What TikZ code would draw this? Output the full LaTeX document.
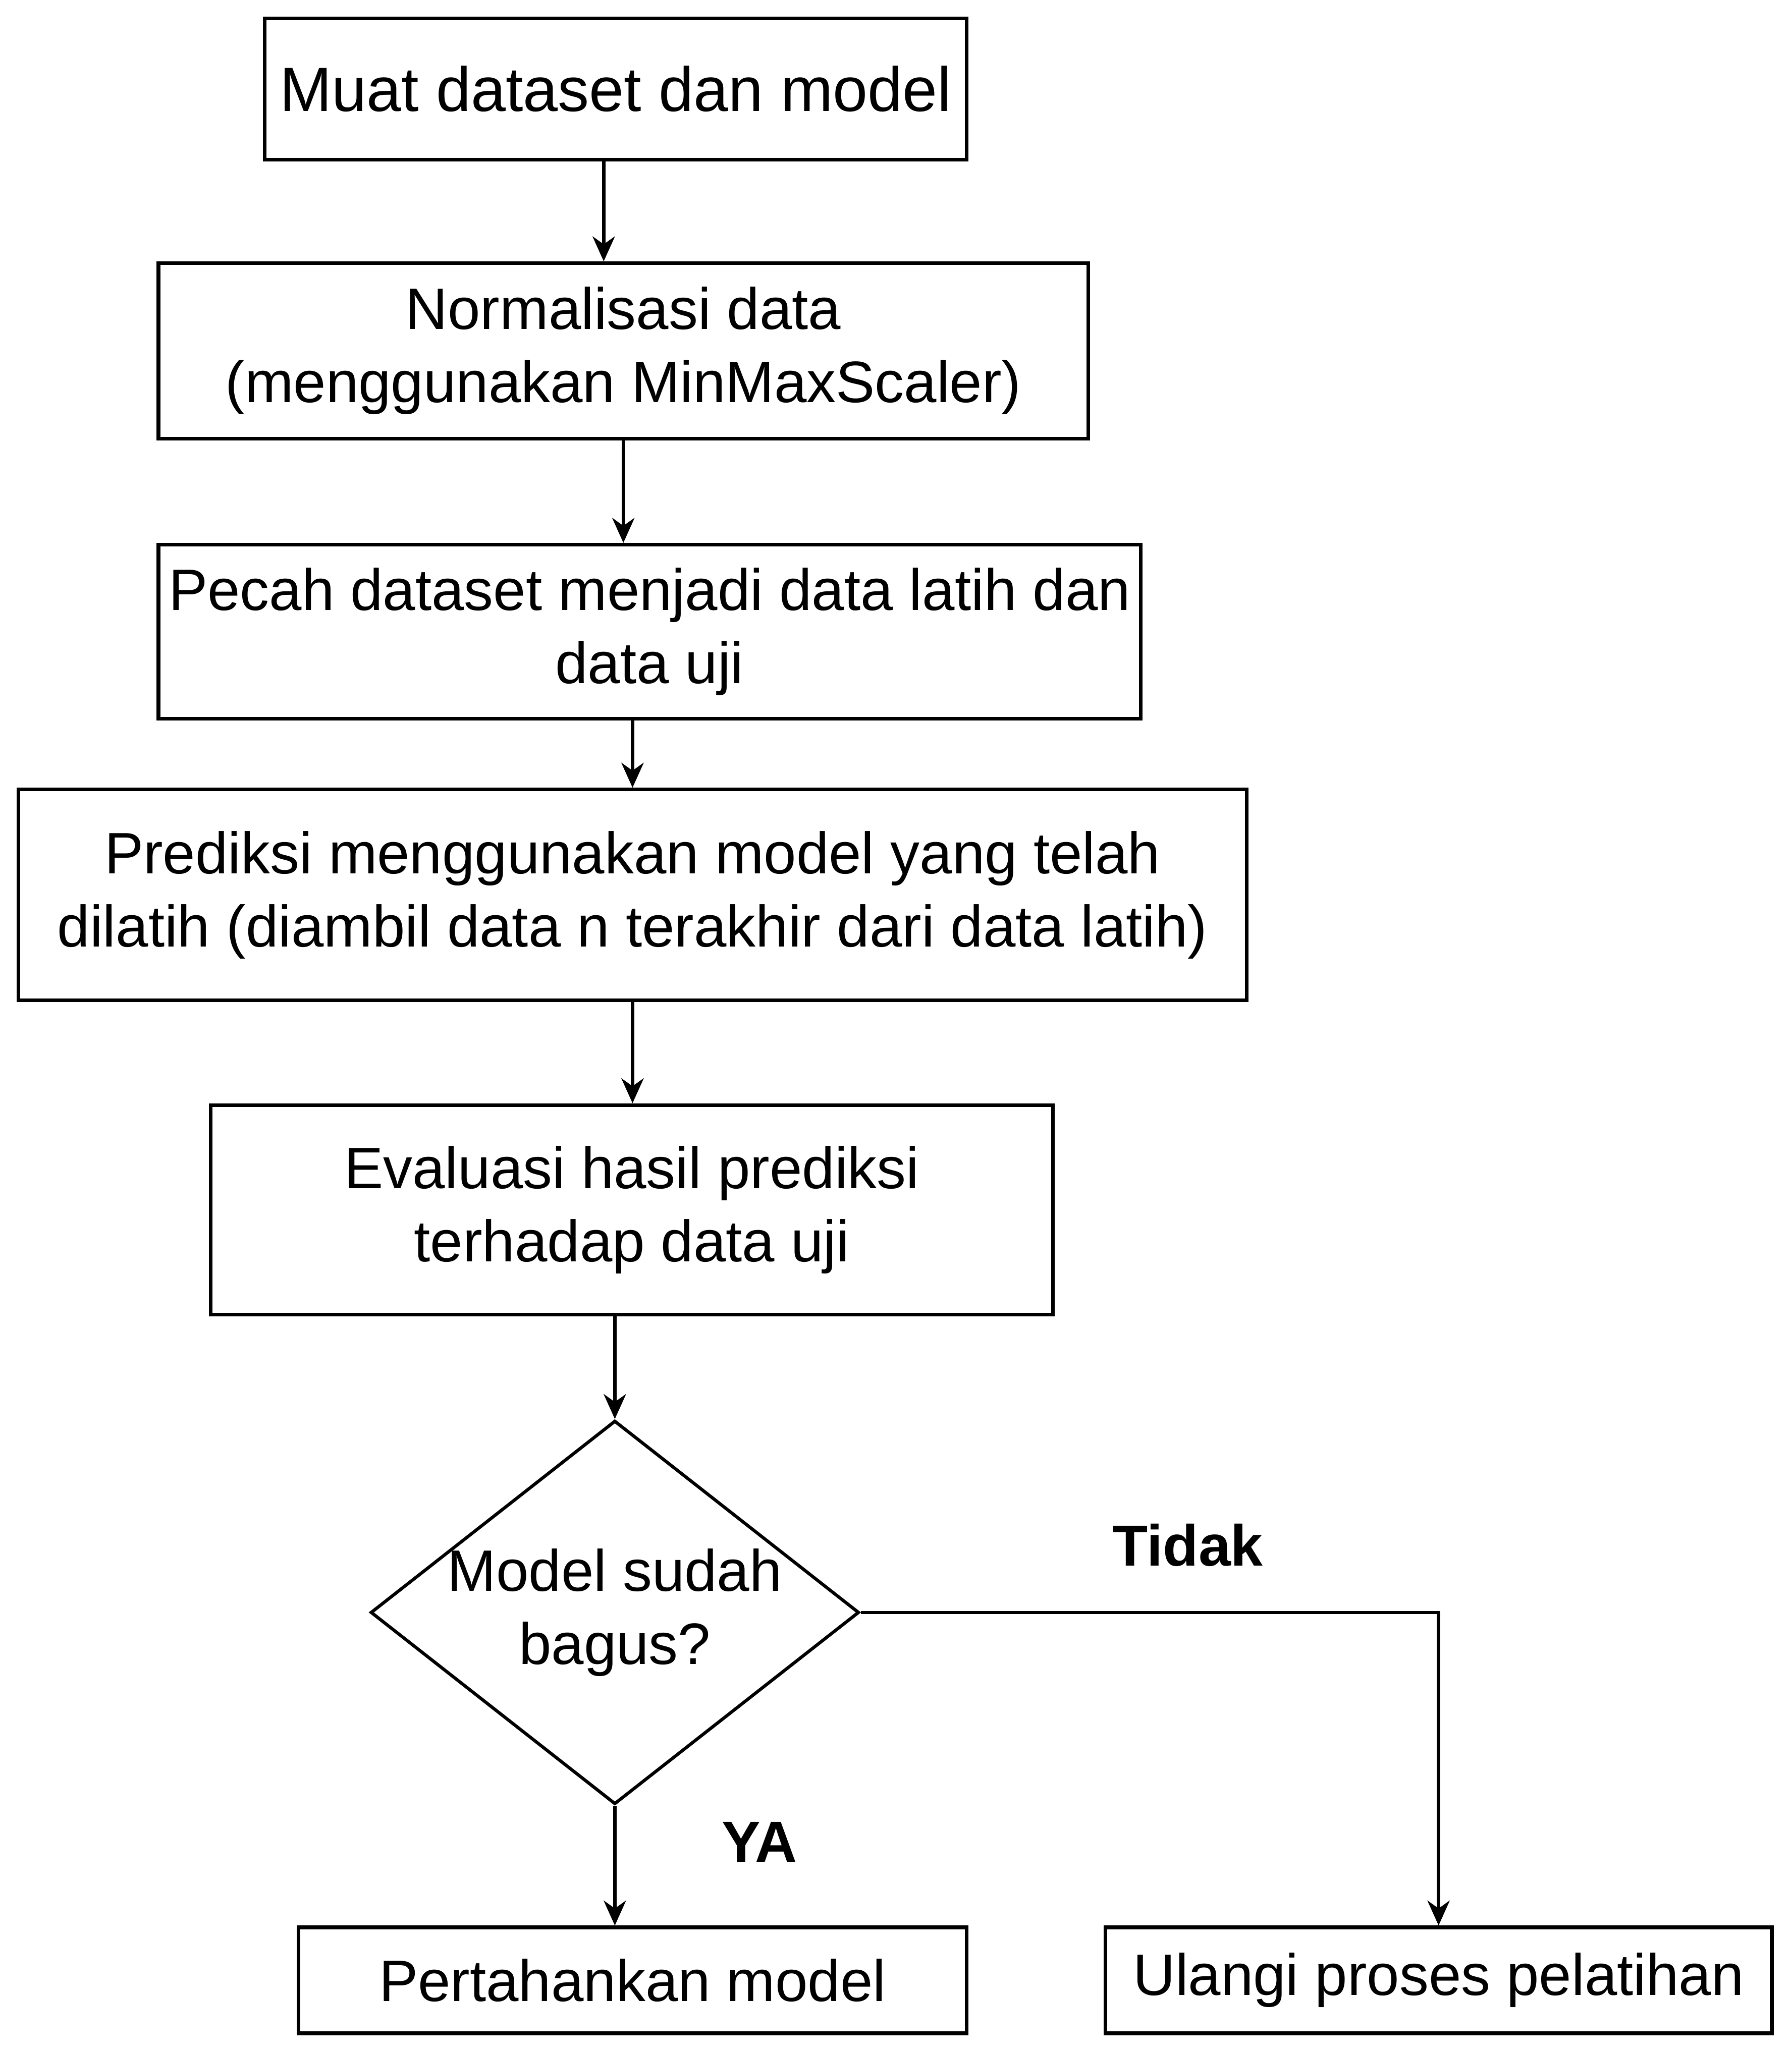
\documentclass[tikz,border=0pt]{standalone}
\usepackage{fontspec}
\setmainfont{Liberation Sans}
\usetikzlibrary{shapes.geometric,arrows.meta}
\begin{document}
\begin{tikzpicture}[
		proses/.style={rectangle, draw, line width=0.8pt, inner sep=0pt, align=center, font=\fontsize{12.7}{15.9}\selectfont},
		keputusan/.style={diamond, draw, line width=0.7pt, inner sep=-0.3mm, aspect=1.27, align=center, font=\fontsize{12.7}{15.9}\selectfont},
		cabang/.style={font=\fontsize{12.6}{15.9}\selectfont\bfseries},
		panah/.style={-{Stealth[length=1.9mm, width=1.7mm, inset=0.6mm]}, line width=0.7pt}]

	\useasboundingbox (0,0) rectangle (13.68,-15.68);

	% Tahapan proses
	\node[proses, minimum width=5.36cm, minimum height=1.08cm, font=\fontsize{13.6}{15.9}\selectfont] (muat) at (4.70,-0.68) {Muat dataset dan model};
	\node[proses, minimum width=7.10cm, minimum height=1.34cm] (norm) at (4.76,-2.68) {Normalisasi data\\(menggunakan MinMaxScaler)};
	\node[proses, minimum width=7.50cm, minimum height=1.33cm] (pecah) at (4.96,-4.825) {Pecah dataset menjadi data latih dan\\data uji};
	\node[proses, minimum width=9.38cm, minimum height=1.61cm] (prediksi) at (4.83,-6.835) {Prediksi menggunakan model yang telah\\dilatih (diambil data n terakhir dari data latih)};
	\node[proses, minimum width=6.43cm, minimum height=1.60cm] (evaluasi) at (4.825,-9.24) {Evaluasi hasil prediksi\\terhadap data uji};
	\node[keputusan, minimum width=3.73cm, minimum height=2.93cm] (cek) at (4.695,-12.315) {Model sudah\\bagus?};
	\node[proses, minimum width=5.10cm, minimum height=0.81cm] (pertahankan) at (4.83,-15.125) {Pertahankan model};
	\node[proses, minimum width=5.09cm, minimum height=0.81cm] (ulangi) at (10.985,-15.125) {Ulangi proses pelatihan};

	% Label cabang
	\node[cabang] (tidak) at (9.07,-11.80) {Tidak};
	\node[cabang] (ya) at (5.80,-14.07) {YA};

	% Panah
	\coordinate (m1) at ([xshift=-0.09cm]muat.south);
	\draw[panah] (m1) -- (m1 |- norm.north);
	\draw[panah] (norm.south) -- (norm.south |- pecah.north);
	\draw[panah] (prediksi.north |- pecah.south) -- (prediksi.north);
	\draw[panah] (prediksi.south) -- (prediksi.south |- evaluasi.north);
	\draw[panah] (cek.north |- evaluasi.south) -- (cek.north);
	\draw[panah] (cek.south) -- (cek.south |- pertahankan.north);
	\draw[panah] (cek.east) -| (ulangi.north);
\end{tikzpicture}
\end{document}
